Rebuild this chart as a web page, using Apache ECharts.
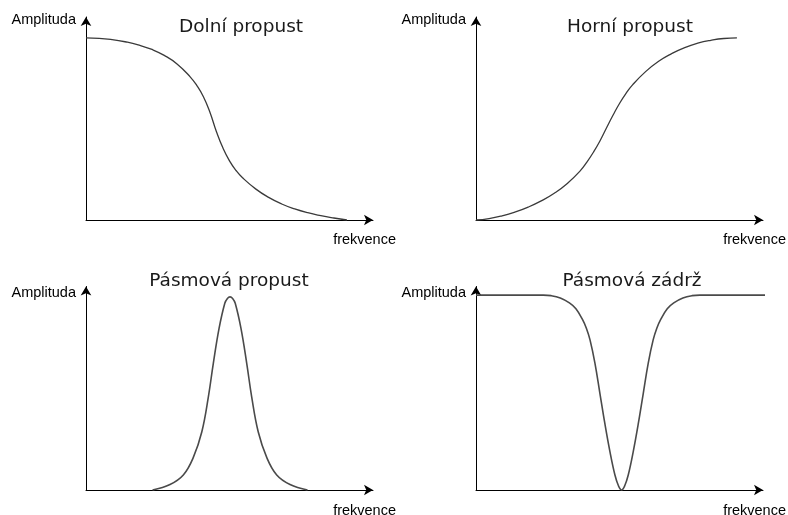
<!DOCTYPE html>
<html>
<head>
<meta charset="utf-8">
<script src="https://cdn.jsdelivr.net/npm/echarts@6/dist/echarts.min.js"></script>
<style>
  html, body { margin: 0; padding: 0; background: #ffffff; }
  #chart { width: 788px; height: 515px; }
</style>
</head>
<body>
<div id="chart"></div>
<script>
// Four idealised filter responses: amplitude against frequency.
const panelTitles = ['Dolní propust', 'Horní propust', 'Pásmová propust', 'Pásmová zádrž'];
const yAxisName = 'Amplituda';
const xAxisName = 'frekvence';

// Low-pass (Dolní propust)
const lowPassX = [0, 5, 10, 15, 20, 25, 30, 35, 40, 42.5, 45, 47.5, 50, 52.5, 55, 57.5, 60, 65, 70, 75, 80, 85, 90, 95, 100];
const lowPassY = [1.0, 0.998, 0.991, 0.979, 0.962, 0.938, 0.904, 0.856, 0.785, 0.738, 0.677, 0.592, 0.485, 0.395, 0.325, 0.272, 0.232, 0.171, 0.124, 0.088, 0.061, 0.040, 0.024, 0.011, 0];

// High-pass (Horní propust)
const highPassX = [0, 5, 10, 15, 20, 25, 30, 35, 40, 42.5, 45, 47.5, 50, 52.5, 55, 57.5, 60, 65, 70, 75, 80, 85, 90, 95, 100];
const highPassY = [0, 0.008, 0.023, 0.044, 0.071, 0.105, 0.147, 0.201, 0.271, 0.318, 0.372, 0.434, 0.505, 0.575, 0.640, 0.695, 0.742, 0.815, 0.872, 0.914, 0.947, 0.971, 0.987, 0.997, 1.0];

// Band-pass (Pásmová propust)
const bandPassX = [25.5, 32.2, 37.3, 41.1, 44.4, 46.9, 48.8, 51.0, 53.2, 54.2, 55.2, 56.2, 57.2, 59.4, 61.6, 63.5, 66.0, 69.3, 73.1, 78.2, 84.9];
const bandPassY = [0, 0.028, 0.077, 0.166, 0.299, 0.478, 0.650, 0.829, 0.958, 0.983, 0.991, 0.983, 0.958, 0.829, 0.650, 0.478, 0.299, 0.166, 0.077, 0.028, 0];

// Band-stop (Pásmová zádrž)
const bandStopX = [0, 25.8, 28.8, 32.3, 35.8, 38.3, 40.8, 42.3, 43.7, 45.6, 47.5, 49.4, 51.35, 53.25, 54.6, 55.8,
                   57.0, 58.35, 60.25, 62.2, 64.1, 66.0, 67.9, 69.3, 70.8, 73.3, 75.8, 79.3, 82.8, 85.8, 111.9];
const bandStopY = [1, 1, 0.997, 0.985, 0.960, 0.930, 0.875, 0.830, 0.770, 0.650, 0.495, 0.340, 0.196, 0.077, 0.022, 0,
                   0.022, 0.077, 0.196, 0.340, 0.495, 0.650, 0.770, 0.830, 0.875, 0.930, 0.960, 0.985, 0.997, 1, 1];

const curves = [
  [lowPassX, lowPassY],
  [highPassX, highPassY],
  [bandPassX, bandPassY],
  [bandStopX, bandStopY]
];

// Layout of the 2x2 panels (pixels)
const grids = [
  { left: 86,  top: 17,    width: 287, height: 203 },
  { left: 476, top: 17,    width: 287, height: 203 },
  { left: 86,  top: 286.5, width: 287, height: 203.5 },
  { left: 476, top: 286.5, width: 287, height: 203.5 }
];
const yMaxes = [1.115, 1.115, 1.044, 1.044];
const titleCenters = [241, 630, 229, 632];
const titleTops = [17.5, 17.5, 271.3, 272];
const yNameGaps = [-3, -3, -6, -6];
const xNamePads = [12, 12, 13, 13];

const labelFont = 'Liberation Sans, Arial, sans-serif';
const axisLine = {
  show: true,
  onZero: false,
  symbol: ['none', 'arrow'],
  symbolSize: [8, 9],
  lineStyle: { color: '#000', width: 1 }
};

const chart = echarts.init(document.getElementById('chart'), null, { renderer: 'canvas' });

const option = {
  backgroundColor: '#ffffff',
  animation: false,
  title: panelTitles.map((t, i) => ({
    text: t,
    left: titleCenters[i],
    top: titleTops[i],
    textAlign: 'center',
    padding: 0,
    textStyle: { fontFamily: 'DejaVu Sans', fontSize: 18.5, fontWeight: 'normal', color: '#1a1a1a' }
  })),
  // fixed panel rectangles: names may run to the page edge
  grid: grids.map(g => Object.assign({ containLabel: false, outerBoundsMode: 'none' }, g)),
  xAxis: grids.map((g, i) => ({
    type: 'value',
    gridIndex: i,
    min: 0,
    max: 110,
    axisLine: axisLine,
    axisTick: { show: false },
    axisLabel: { show: false },
    splitLine: { show: false },
    name: xAxisName,
    nameLocation: 'end',
    nameGap: 23,
    nameTextStyle: {
      fontFamily: labelFont, fontSize: 14.5, color: '#000',
      align: 'right', verticalAlign: 'top', padding: [xNamePads[i], 0, 0, 0]
    }
  })),
  yAxis: grids.map((g, i) => ({
    type: 'value',
    gridIndex: i,
    min: 0,
    max: yMaxes[i],
    axisLine: axisLine,
    axisTick: { show: false },
    axisLabel: { show: false },
    splitLine: { show: false },
    name: yAxisName,
    nameLocation: 'end',
    nameGap: yNameGaps[i],
    nameTextStyle: {
      fontFamily: labelFont, fontSize: 14.5, color: '#000',
      align: 'right', verticalAlign: 'middle', padding: [0, 10, 0, 0]
    }
  })),
  series: curves.map(([xs, ys], i) => ({
    type: 'line',
    xAxisIndex: i,
    yAxisIndex: i,
    data: xs.map((x, k) => [x, ys[k]]),
    smooth: i < 2 ? 0.5 : 0.4,
    showSymbol: false,
    clip: false,
    silent: true,
    lineStyle: { color: i < 2 ? '#3a3a3a' : '#4a4a4a', width: i < 2 ? 1.3 : 1.6 }
  }))
};

chart.setOption(option);
</script>
</body>
</html>
